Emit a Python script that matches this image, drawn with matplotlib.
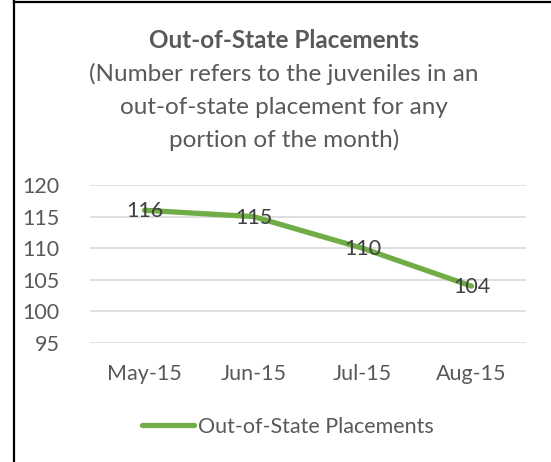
import matplotlib.pyplot as plt
import matplotlib.lines as mlines
import numpy as np

plt.rcParams['font.family'] = ['Lato', 'DejaVu Sans']

months = ["May-15", "Jun-15", "Jul-15", "Aug-15"]
placements = [116, 115, 110, 104]
yticks = [95, 100, 105, 110, 115, 120]
series_name = "Out-of-State Placements"

green = "#70AD47"
grey_txt = "#595959"
fs = 15.5
title_fs = 17.5

W, H = 551, 462
fig = plt.figure(figsize=(W / 100, H / 100), dpi=100)

# chart frame (only top and left edge show in the crop)
fig.add_artist(mlines.Line2D([14 / W, 14 / W], [0, 1 - 1 / H], color="black", lw=1.6))
fig.add_artist(mlines.Line2D([14 / W, 1], [1 - 1.5 / H, 1 - 1.5 / H], color="black", lw=1.6))

ax = fig.add_axes([90 / W, (H - 343) / H, (526 - 90) / W, (343 - 185) / H])
x = np.arange(len(months))
ax.plot(x, placements, color=green, lw=3.8, solid_capstyle="round", zorder=3)
for xi, v in zip(x, placements):
    ax.text(xi, v - 0.15, str(v), ha="center", va="center", fontsize=fs, color="#404040", zorder=4)

ax.set_xlim(-0.5, len(months) - 0.5)
ax.set_ylim(95, 120)
ax.set_yticks(yticks)
ax.set_xticks(x)
ax.set_xticklabels(months)
ax.grid(axis="y", color="#D9D9D9", lw=1.2)
ax.set_axisbelow(True)
for s in ax.spines.values():
    s.set_visible(False)
ax.tick_params(length=0, labelsize=fs, labelcolor=grey_txt)
ax.tick_params(axis="y", pad=22)
ax.tick_params(axis="x", pad=15)

fig.text(284 / W, 1 - 40 / H, "Out-of-State Placements", ha="center", va="center",
         fontsize=title_fs, fontweight="bold", color=grey_txt)
sub = ["(Number refers to the juveniles in an",
       "out-of-state placement for any",
       "portion of the month)"]
for i, line in enumerate(sub):
    fig.text(284 / W, 1 - (74 + 33 * i) / H, line, ha="center", va="center",
             fontsize=title_fs, color=grey_txt)

handle = mlines.Line2D([], [], color=green, lw=3.8, solid_capstyle="round")
fig.legend([handle], [series_name], loc="center", bbox_to_anchor=(288 / W, (H - 427) / H),
           frameon=False, fontsize=fs, labelcolor=grey_txt, handlelength=2.4,
           handletextpad=0.2)

fig.savefig("out.png", dpi=100, facecolor="white")
